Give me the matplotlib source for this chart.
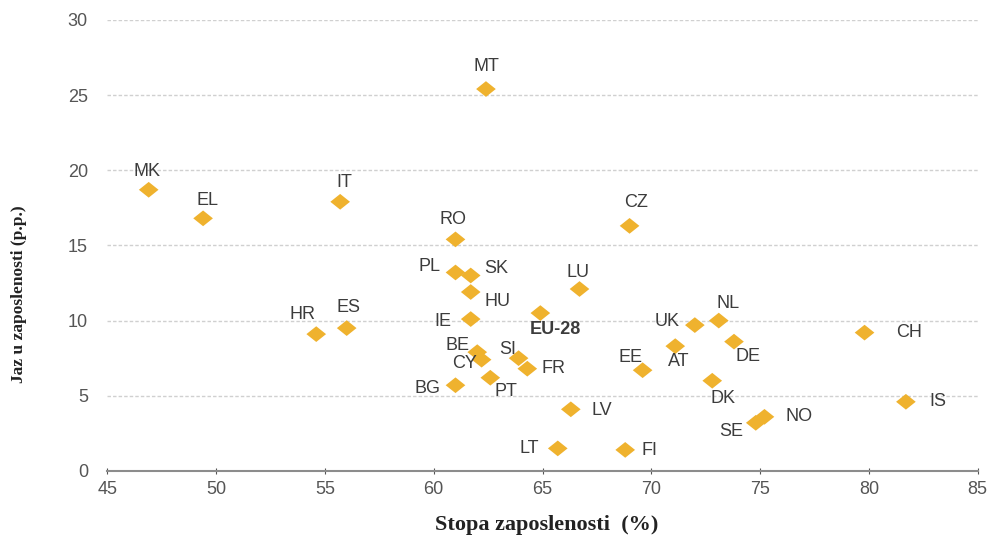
import matplotlib.pyplot as plt
from matplotlib.path import Path

# data
countries = ["MK", "EL", "IT", "HR", "ES", "MT", "CZ", "RO", "PL", "SK", "HU", "LU",
             "IE", "EU-28", "BE", "CY", "SI", "FR", "PT", "BG", "LV", "LT", "FI",
             "EE", "AT", "UK", "NL", "DE", "DK", "SE", "NO", "CH", "IS"]
employment_rate = [46.9, 49.4, 55.7, 54.6, 56.0, 62.4, 69.0, 61.0, 61.0, 61.7, 61.7, 66.7,
                   61.7, 64.9, 62.0, 62.2, 63.9, 64.3, 62.6, 61.0, 66.3, 65.7, 68.8,
                   69.6, 71.1, 72.0, 73.1, 73.8, 72.8, 74.8, 75.2, 79.8, 81.7]
gap_pp = [18.7, 16.8, 17.9, 9.1, 9.5, 25.4, 16.3, 15.4, 13.2, 13.0, 11.9, 12.1,
          10.1, 10.5, 7.9, 7.4, 7.5, 6.8, 6.2, 5.7, 4.1, 1.5, 1.4,
          6.7, 8.3, 9.7, 10.0, 8.6, 6.0, 3.2, 3.6, 9.2, 4.6]

# label centre offsets from the marker, in points
offsets = {
    "MK": (-1.5, 13), "EL": (3.5, 13), "IT": (3, 14), "HR": (-10, 14), "ES": (1.5, 15),
    "MT": (0, 16), "CZ": (5, 17), "RO": (-2, 14.5), "PL": (-19, 4), "SK": (18, 5),
    "HU": (19, -7), "LU": (-1, 12), "IE": (-20, -1.5), "EU-28": (11, -12),
    "BE": (-14.5, 4.5), "CY": (-12, -3), "SI": (-7.5, 6.5), "FR": (19, 0.5),
    "PT": (11.5, -10), "BG": (-20, -2), "LV": (22, -1), "LT": (-20.5, 0),
    "FI": (17.5, -0.5), "EE": (-9, 9), "AT": (2.5, -11), "UK": (-20, 2.5),
    "NL": (6.5, 12), "DE": (10, -11), "DK": (8, -13), "SE": (-17.5, -6),
    "NO": (25, 0), "CH": (32, 0), "IS": (23, 0),
}

plt.rcParams["font.family"] = ["Liberation Sans", "DejaVu Sans"]

fig = plt.figure(figsize=(9.94, 5.37), dpi=100)
ax = fig.add_axes([0.108, 0.123, 0.8756, 0.84])

diamond = Path([(-1, 0), (0, 0.8), (1, 0), (0, -0.8), (-1, 0)],
               [Path.MOVETO, Path.LINETO, Path.LINETO, Path.LINETO, Path.CLOSEPOLY])
ax.scatter(employment_rate, gap_pp, marker=diamond, s=200, color="#EFB22E",
           edgecolors="none", zorder=3)

for c, x, y in zip(countries, employment_rate, gap_pp):
    dx, dy = offsets[c]
    ax.annotate(c, (x, y), xytext=(dx, dy), textcoords="offset points",
                ha="center", va="center", fontsize=13, color="#3c3c3c",
                fontweight="bold" if c == "EU-28" else "normal")

ax.set_xlim(45, 85)
ax.set_ylim(0, 30)
ax.set_xticks(range(45, 86, 5))
ax.set_yticks(range(0, 31, 5))

for v in range(5, 31, 5):
    ax.axhline(v, color="#d0d0d0", lw=1, ls=(0, (2.5, 1.5)), zorder=1)

for s in ["top", "right", "left"]:
    ax.spines[s].set_visible(False)
ax.spines["bottom"].set_color("#8c8c8c")
ax.spines["bottom"].set_linewidth(1.5)
ax.tick_params(axis="x", direction="inout", length=5, color="#555555",
               labelsize=13, labelcolor="#555555", pad=5)
ax.tick_params(axis="y", length=0, labelsize=13, labelcolor="#555555", pad=14)

ax.set_xlabel("Stopa zaposlenosti  (%)", family="Liberation Serif", fontweight="bold",
              fontsize=16, color="#222222", va="center")
ax.xaxis.set_label_coords(0.505, -0.12)
ax.set_ylabel("Jaz u zaposlenosti (p.p.)", family="Liberation Serif", fontweight="bold",
              fontsize=12.5, color="#222222", va="center")
ax.yaxis.set_label_coords(-0.102, 0.392)

fig.savefig("out.png", dpi=100)
